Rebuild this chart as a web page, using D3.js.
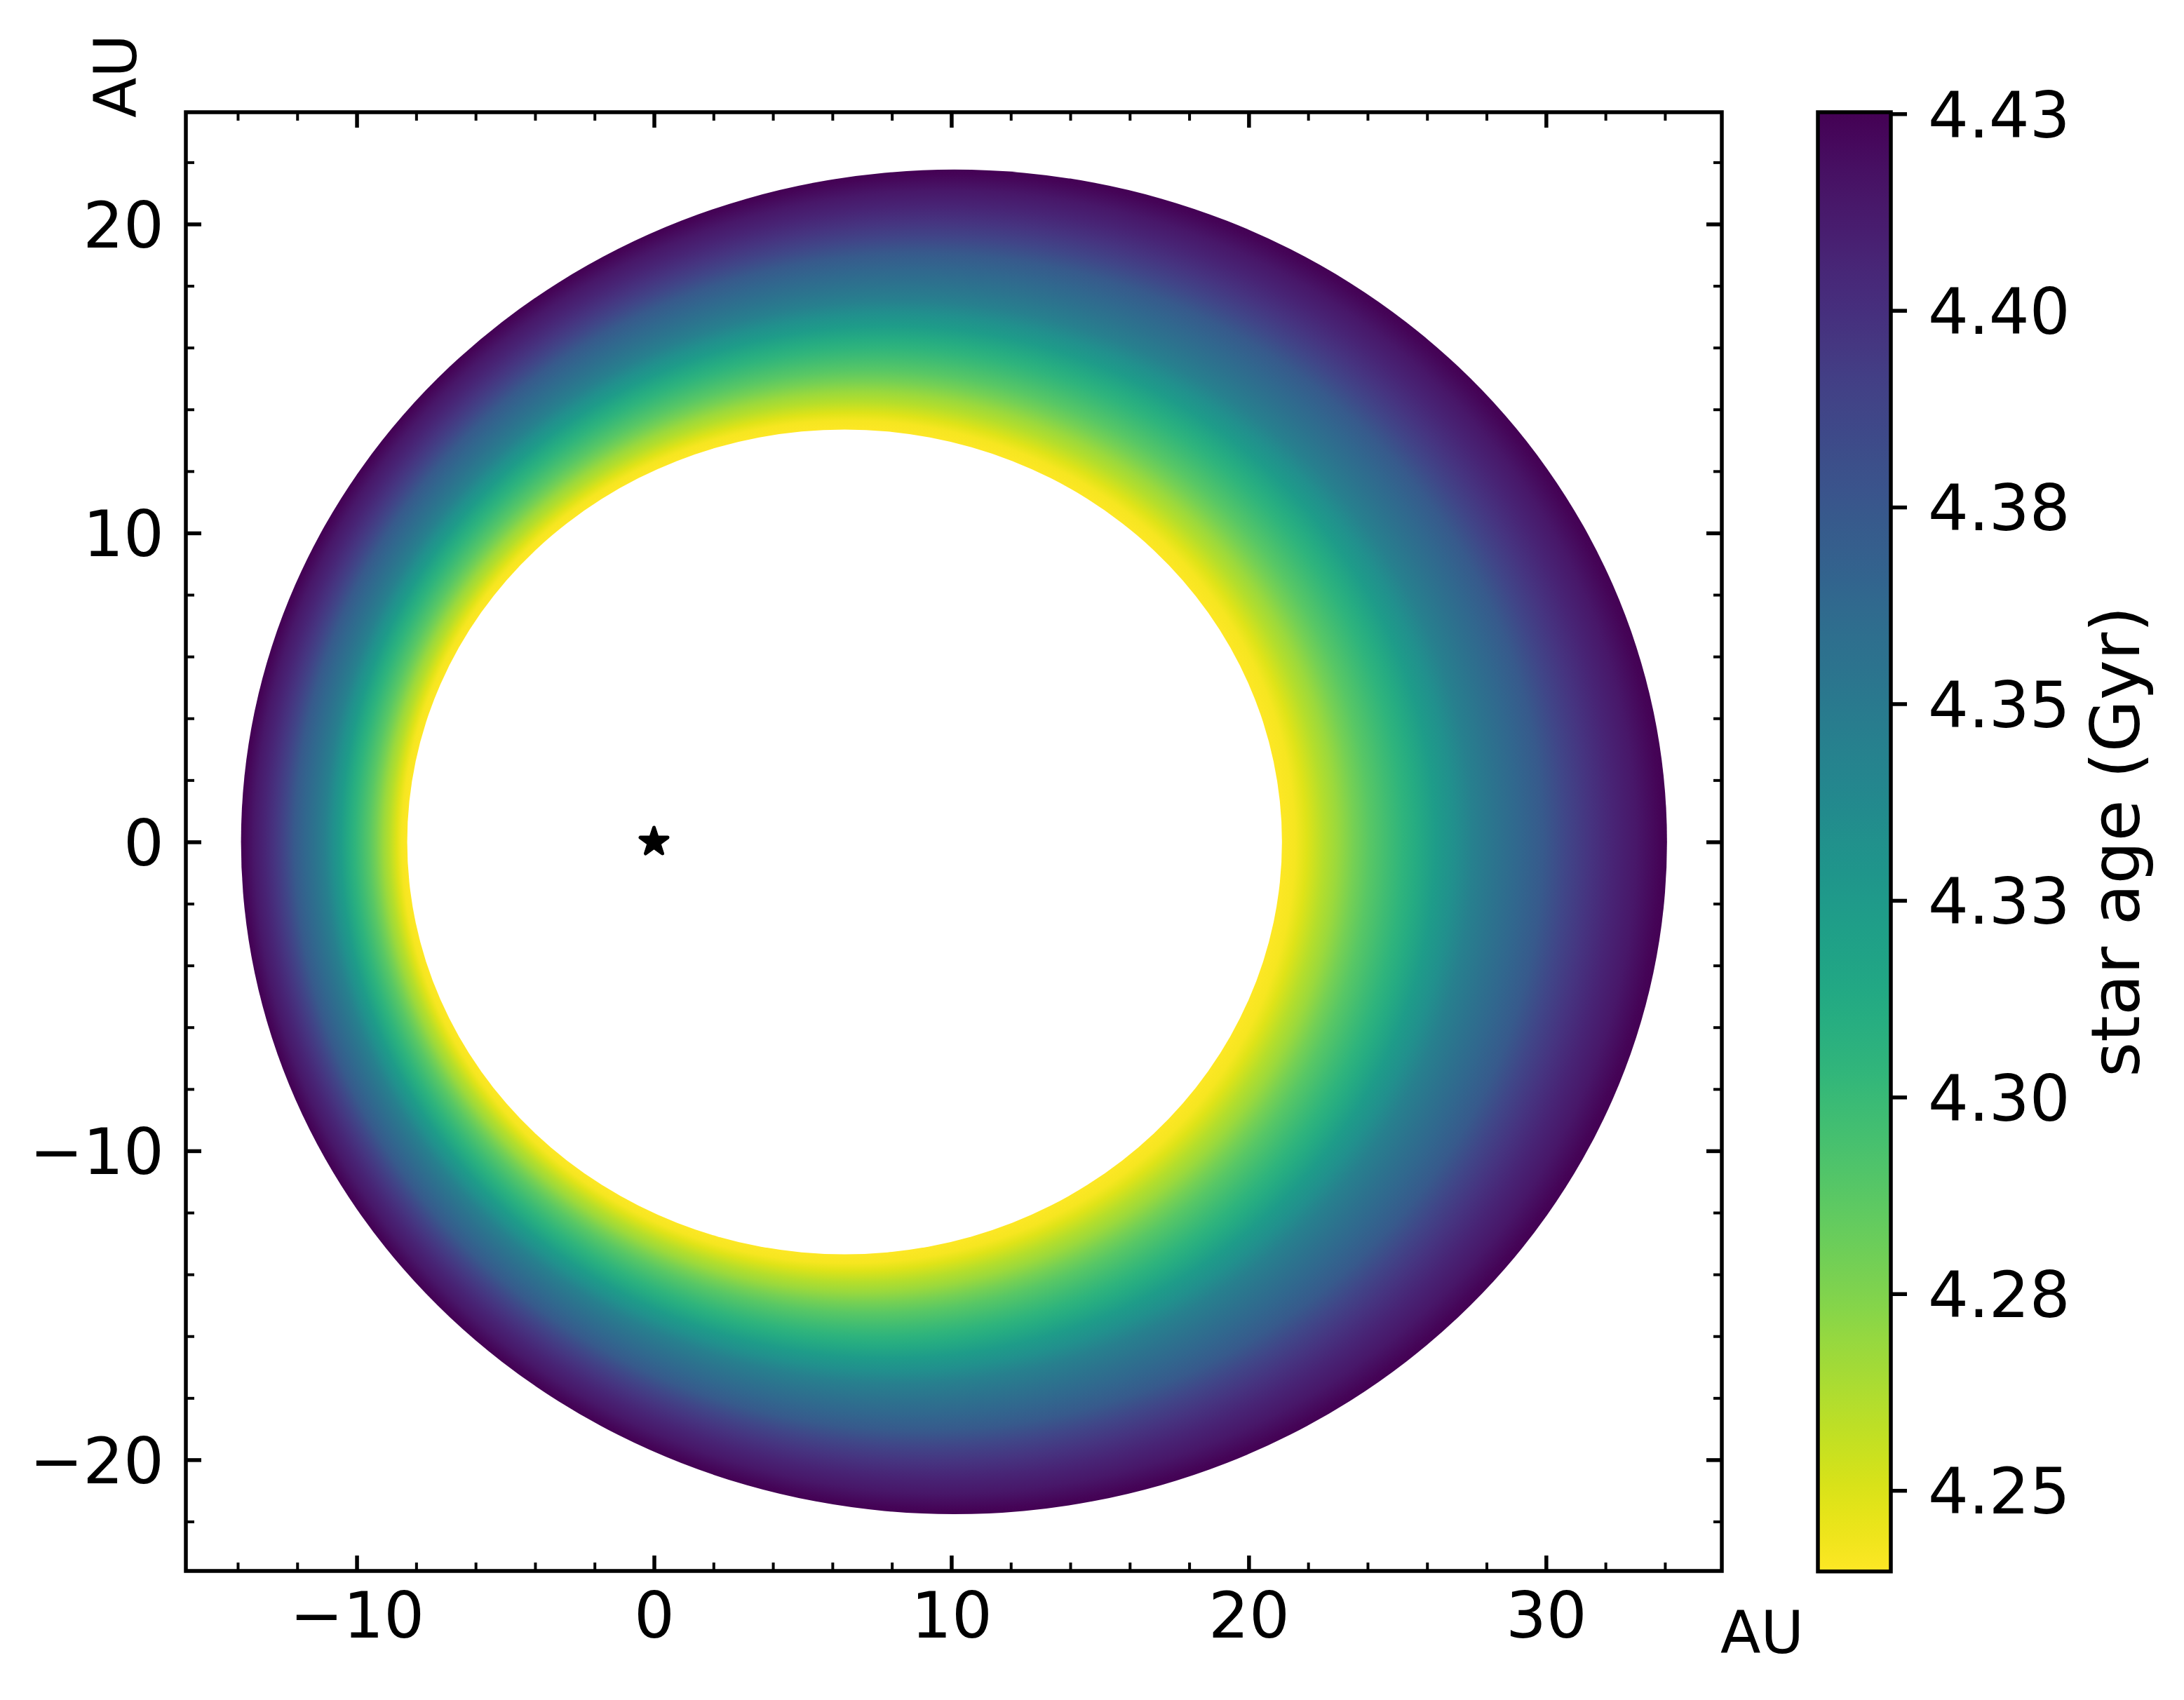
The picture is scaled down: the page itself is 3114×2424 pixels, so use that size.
<!DOCTYPE html>
<html>
<head>
<meta charset="utf-8">
<script src="https://cdn.jsdelivr.net/npm/d3@7"></script>
<style>
  body { margin: 0; background: #fff; }
  text { font-family: "DejaVu Sans", sans-serif; fill: #000; }
</style>
</head>
<body>
<svg width="3114" height="2424"></svg>
<script>
// orbit snapshots: star age (Gyr) and semi-major axis (AU)
var ageGyr = [4.2397, 4.2425, 4.2490, 4.2601, 4.2675, 4.2787, 4.2879, 4.2972, 4.3046, 4.3120, 4.3232,
              4.3325, 4.3454, 4.3547, 4.3640, 4.3733, 4.3862, 4.3974, 4.4067, 4.4141, 4.4233, 4.4252];
var semiMajorAU = [14.71, 15.03, 15.30, 15.71, 16.04, 16.44, 16.82, 17.28, 17.62, 17.96, 18.41,
                   18.85, 19.31, 19.87, 20.43, 21.00, 21.55, 22.12, 22.68, 23.24, 23.81, 23.98];

// orbit shape: centre x = centreShift + centreSlope * a, minor/major ratio
var centreShift = 0.57, centreSlope = 0.397, axisRatio = 0.9075;

var xMajor = [-10, 0, 10, 20, 30];
var yMajor = [-20, -10, 0, 10, 20];
var xMinor = d3.range(-14, 35, 2).filter(function (d) { return d % 10 !== 0; });
var yMinor = d3.range(-22, 23, 2).filter(function (d) { return d % 10 !== 0; });

var cbarTicks = [4.250, 4.275, 4.300, 4.325, 4.350, 4.375, 4.400, 4.425];
var cbarLabels = ["4.25", "4.28", "4.30", "4.33", "4.35", "4.38", "4.40", "4.43"];

/* layout */
var svg = d3.select("svg"),
    margin = {top: 160, left: 265},
    width = 2455 - 265,
    height = 2240 - 160,
    g = svg.append("g").attr("transform", "translate(" + margin.left + "," + margin.top + ")");

svg.insert("rect", ":first-child").attr("width", 3114).attr("height", 2424).attr("fill", "#fff");

var x = d3.scaleLinear().domain([-15.745, 35.913]).range([0, width]),
    y = d3.scaleLinear().domain([-23.60, 23.62]).range([height, 0]);

var ageExtent = d3.extent(ageGyr);
// viridis reversed: youngest yellow, oldest purple
var color = d3.scaleSequential(d3.interpolateViridis).domain([ageExtent[1], ageExtent[0]]);

var kx = x(1) - x(0), ky = y(0) - y(1);
var aIn = semiMajorAU[0], aOut = semiMajorAU[semiMajorAU.length - 1];
function centre(a) { return centreShift + centreSlope * a; }

/* radial gradient through the orbit family */
var defs = svg.append("defs");
var grad = defs.append("radialGradient")
    .attr("id", "orbitGrad")
    .attr("gradientUnits", "userSpaceOnUse")
    .attr("cx", centre(aOut)).attr("cy", 0).attr("r", aOut)
    .attr("fx", centreShift).attr("fy", 0)
    .attr("gradientTransform", "translate(" + x(0) + "," + y(0) + ") scale(" + kx + "," + (ky * axisRatio) + ")");

grad.selectAll("stop")
    .data(ageGyr)
    .enter().append("stop")
    .attr("offset", function (d, i) { return semiMajorAU[i] / aOut; })
    .attr("stop-color", function (d) { return color(d); });

// outer filled orbit, then clear the inside
g.append("ellipse")
    .attr("cx", x(centre(aOut))).attr("cy", y(0))
    .attr("rx", kx * aOut).attr("ry", ky * axisRatio * aOut)
    .attr("fill", "url(#orbitGrad)");

g.append("ellipse")
    .attr("cx", x(centre(aIn))).attr("cy", y(0))
    .attr("rx", kx * aIn).attr("ry", ky * axisRatio * aIn)
    .attr("fill", "#fff");

// star at the focus
g.append("path")
    .attr("d", d3.symbol(d3.symbolStar, 470))
    .attr("transform", "translate(" + x(0) + "," + y(0) + ")")
    .attr("fill", "#000")
    .attr("stroke", "#000")
    .attr("stroke-width", 5)
    .attr("stroke-linejoin", "round");

/* axes, ticks inward on all sides */
function styleAxis(sel, w) {
    sel.select(".domain").remove();
    sel.selectAll(".tick line").attr("stroke", "#000").attr("stroke-width", w);
    sel.selectAll("text").style("font-size", "91px").attr("fill", "#000");
}

g.append("g").attr("transform", "translate(0," + height + ")")
    .call(d3.axisBottom(x).tickValues(xMajor).tickSize(-22).tickPadding(30.5))
    .call(styleAxis, 5.5);
g.append("g").attr("transform", "translate(0," + height + ")")
    .call(d3.axisBottom(x).tickValues(xMinor).tickSize(-12).tickFormat(""))
    .call(styleAxis, 4);
g.append("g")
    .call(d3.axisTop(x).tickValues(xMajor).tickSize(-22).tickFormat(""))
    .call(styleAxis, 5.5);
g.append("g")
    .call(d3.axisTop(x).tickValues(xMinor).tickSize(-12).tickFormat(""))
    .call(styleAxis, 4);

var yAx = g.append("g")
    .call(d3.axisLeft(y).tickValues(yMajor).tickSize(-22).tickPadding(31))
    .call(styleAxis, 5.5);
yAx.selectAll("text").attr("dy", "0.36em");
g.append("g")
    .call(d3.axisLeft(y).tickValues(yMinor).tickSize(-12).tickFormat(""))
    .call(styleAxis, 4);
g.append("g").attr("transform", "translate(" + width + ",0)")
    .call(d3.axisRight(y).tickValues(yMajor).tickSize(-22).tickFormat(""))
    .call(styleAxis, 5.5);
g.append("g").attr("transform", "translate(" + width + ",0)")
    .call(d3.axisRight(y).tickValues(yMinor).tickSize(-12).tickFormat(""))
    .call(styleAxis, 4);

g.append("rect")
    .attr("width", width).attr("height", height)
    .attr("fill", "none").attr("stroke", "#000").attr("stroke-width", 5.5);

// axis labels
svg.append("text")
    .attr("x", 2453).attr("y", 2357)
    .style("font-size", "84px")
    .text("AU");
svg.append("text")
    .attr("transform", "translate(194,168) rotate(-90)")
    .style("font-size", "84px")
    .text("AU");

/* colorbar */
var cbW = 104, cbH = 2080.7;
var cb = svg.append("g").attr("transform", "translate(2592,160)");
var cbY = d3.scaleLinear().domain(ageExtent).range([cbH, 0]);

var lin = defs.append("linearGradient")
    .attr("id", "cbarGrad")
    .attr("x1", 0).attr("y1", 1).attr("x2", 0).attr("y2", 0);
lin.selectAll("stop")
    .data(d3.range(0, 1.0001, 0.02))
    .enter().append("stop")
    .attr("offset", function (d) { return d; })
    .attr("stop-color", function (d) { return color(ageExtent[0] + d * (ageExtent[1] - ageExtent[0])); });

cb.append("rect")
    .attr("width", cbW).attr("height", cbH)
    .attr("fill", "url(#cbarGrad)");

cb.append("g").attr("transform", "translate(" + cbW + ",0)")
    .call(d3.axisRight(cbY).tickValues(cbarTicks)
        .tickFormat(function (d, i) { return cbarLabels[i]; })
        .tickSize(23).tickPadding(30))
    .call(styleAxis, 5.5)
    .selectAll("text").attr("dy", "0.36em");

cb.append("rect")
    .attr("width", cbW).attr("height", cbH)
    .attr("fill", "none").attr("stroke", "#000").attr("stroke-width", 5.5);

svg.append("text")
    .attr("transform", "translate(3050,1200) rotate(-90)")
    .attr("text-anchor", "middle")
    .style("font-size", "96px")
    .text("star age (Gyr)");
</script>
</body>
</html>
